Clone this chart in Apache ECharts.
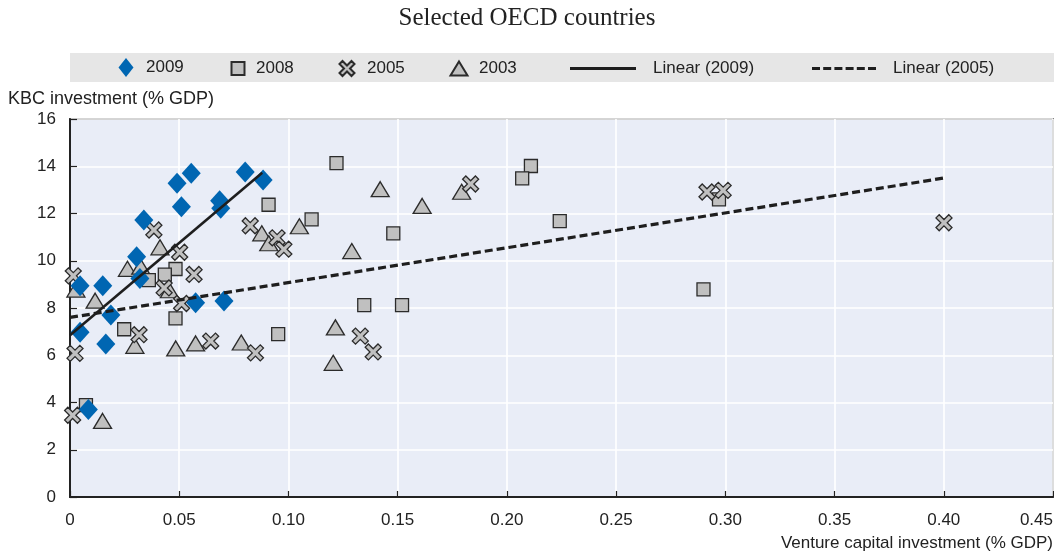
<!DOCTYPE html>
<html>
<head>
<meta charset="utf-8">
<script src="https://cdn.jsdelivr.net/npm/echarts@6/dist/echarts.min.js"></script>
<style>
html,body{margin:0;padding:0;background:#fff;}
#chart{width:1054px;height:553px;}
</style>
</head>
<body>
<div id="chart"></div>
<script>
// ---- data ----
const x2009 = [0.0046,0.015,0.0187,0.0305,0.032,0.0338,0.049,0.0555,0.051,0.0685,0.069,0.0802,0.0884,0.0575,0.0705,0.0046,0.0164,0.0084];
const y2009 = [8.94,8.94,7.7,10.17,9.25,11.72,13.28,13.7,12.29,12.54,12.22,13.76,13.42,8.22,8.3,6.97,6.48,3.70];

const x2008 = [0.0909,0.0483,0.0434,0.0361,0.0483,0.0248,0.0953,0.0073,0.122,0.1106,0.148,0.211,0.207,0.2242,0.1347,0.152,0.2971,0.290];
const y2008 = [12.37,9.65,9.41,9.18,7.56,7.1,6.89,3.89,14.13,11.75,11.16,14.01,13.49,11.68,8.12,8.12,12.6,8.79];

const x2005 = [0.0015,0.0384,0.0502,0.0568,0.0431,0.0511,0.0825,0.0948,0.0979,0.0023,0.0316,0.0644,0.0849,0.0012,0.1834,0.1329,0.1388,0.2916,0.299,0.4001];
const y2005 = [9.36,11.3,10.36,9.42,8.85,8.19,11.48,10.97,10.49,6.08,6.87,6.6,6.1,3.46,13.25,6.81,6.14,12.91,12.98,11.61];

const x2003 = [0.0027,0.0115,0.0263,0.0324,0.0412,0.0455,0.0878,0.091,0.105,0.0297,0.0484,0.0575,0.0784,0.0149,0.142,0.1612,0.1793,0.129,0.1215,0.1205];
const y2003 = [8.78,8.31,9.66,9.75,10.57,8.75,11.16,10.74,11.46,6.4,6.29,6.5,6.54,3.22,13.03,12.32,12.92,10.41,7.18,5.68];

// trend line end points
const trend2009X = [0, 0.088];
const trend2009Y = [6.85, 13.72];
const trend2005X = [0, 0.40];
const trend2005Y = [7.6, 13.5];

const xTickLabels = ['0','0.05','0.10','0.15','0.20','0.25','0.30','0.35','0.40','0.45'];
const yTickLabels = ['0','2','4','6','8','10','12','14','16'];

const titleText = 'Selected OECD countries';
const yAxisTitle = 'KBC investment (% GDP)';
const xAxisTitle = 'Venture capital investment (% GDP)';

// ---- build ----
const zip = (xs, ys) => xs.map((x, i) => [x, ys[i]]);
const FONT = '"Liberation Sans", Arial, sans-serif';
const TXT = '#222';
const GRAYFILL = '#c0c0c0';
const EDGE = '#2b2b2b';
const BLUE = '#0066b2';
const X_PATH = 'path://M0,2L2,0L5,3L8,0L10,2L7,5L10,8L8,10L5,7L2,10L0,8L3,5Z';
const DASH_PATH = 'path://M0,0h8v3h-8zM11.2,0h8v3h-8zM22.4,0h8v3h-8zM33.6,0h8v3h-8zM44.8,0h8v3h-8zM56,0h8v3h-8z';

const gray = {color: GRAYFILL, borderColor: EDGE, borderWidth: 1.3, opacity: 1};

function legendAt(name, left, w, h, pad, top) {
  return {
    show: true, left: left, top: top === undefined ? 55 : top, orient: 'horizontal',
    data: [name], itemWidth: w, itemHeight: h,
    selectedMode: false,
    textStyle: {fontFamily: FONT, fontSize: 17, color: TXT, padding: [0, 0, 0, pad]}
  };
}

const chart = echarts.init(document.getElementById('chart'), null, {renderer: 'canvas'});
chart.setOption({
  animation: false,
  backgroundColor: '#ffffff',
  title: [
    {text: titleText, left: 'center', top: 6, padding: 0,
     textStyle: {fontFamily: '"Liberation Serif", "Times New Roman", serif', fontSize: 25, fontWeight: 'normal', color: TXT}},
    {text: yAxisTitle, left: 8, top: 90, padding: 0,
     textStyle: {fontFamily: FONT, fontSize: 18, fontWeight: 'normal', color: TXT}},
    {text: xAxisTitle, right: 1, top: 535, padding: 0,
     textStyle: {fontFamily: FONT, fontSize: 17, fontWeight: 'normal', color: TXT}}
  ],
  graphic: [
    {type: 'rect', z: -10, silent: true, shape: {x: 70, y: 53, width: 984, height: 29}, style: {fill: '#e6e6e6'}}
  ],
  legend: [
    legendAt('2009', 113.5, 15, 19, 7.5, 53),
    legendAt('2008', 225.5, 13, 13, 6.5),
    legendAt('2005', 333.5, 15, 15, 7.5),
    legendAt('2003', 444.5, 17, 14, 6.5),
    legendAt({name: 'Linear (2009)', icon: 'rect'}, 565, 66, 3, 12),
    legendAt({name: 'Linear (2005)', icon: DASH_PATH}, 807, 66, 3, 11)
  ],
  grid: {
    left: 70, right: 1, top: 119, bottom: 56, show: true,
    backgroundColor: '#e9edf7', borderColor: '#222', borderWidth: 1.5,
    containLabel: false, outerBoundsMode: 'none'
  },
  xAxis: {
    type: 'value', min: 0, max: 0.45, interval: 0.05,
    axisLine: {show: true, onZero: false, lineStyle: {color: '#222', width: 2}},
    axisTick: {show: true, inside: true, length: 6, lineStyle: {color: '#222', width: 1.2}},
    splitLine: {show: true, lineStyle: {color: '#ffffff', width: 1.6}},
    axisLabel: {
      margin: 15, fontFamily: FONT, fontSize: 17, color: TXT, alignMaxLabel: 'right',
      formatter: v => xTickLabels[Math.round(v / 0.05)]
    }
  },
  yAxis: {
    type: 'value', min: 0, max: 16, interval: 2,
    axisLine: {show: true, lineStyle: {color: '#222', width: 2}},
    axisTick: {show: true, inside: true, length: 7, lineStyle: {color: '#222', width: 1.2}},
    splitLine: {show: true, lineStyle: {color: '#ffffff', width: 1.6}},
    axisLabel: {
      margin: 14, fontFamily: FONT, fontSize: 17, color: TXT,
      formatter: v => yTickLabels[Math.round(v / 2)]
    }
  },
  series: [
    {name: '2003', type: 'scatter', symbol: 'triangle', symbolSize: [18, 15],
     itemStyle: gray, data: zip(x2003, y2003), z: 2},
    {name: '2008', type: 'scatter', symbol: 'rect', symbolSize: 13,
     itemStyle: gray, data: zip(x2008, y2008), z: 3},
    {name: '2005', type: 'scatter', symbol: X_PATH, symbolSize: 16,
     itemStyle: gray, data: zip(x2005, y2005), z: 4},
    {name: '2009', type: 'scatter', symbol: 'diamond', symbolSize: [19, 21],
     itemStyle: {color: BLUE, opacity: 1}, data: zip(x2009, y2009), z: 5},
    {name: 'Linear (2009)', type: 'line', showSymbol: false, symbol: 'none', z: 6,
     color: '#1e1e1e', lineStyle: {color: '#1e1e1e', width: 2.6}, itemStyle: {color: '#1e1e1e'},
     data: zip(trend2009X, trend2009Y)},
    {name: 'Linear (2005)', type: 'line', showSymbol: false, symbol: 'none', z: 6,
     color: '#1e1e1e', lineStyle: {color: '#1e1e1e', width: 3.2, type: [8, 4]}, itemStyle: {color: '#1e1e1e'},
     data: zip(trend2005X, trend2005Y)}
  ]
});
</script>
</body>
</html>
